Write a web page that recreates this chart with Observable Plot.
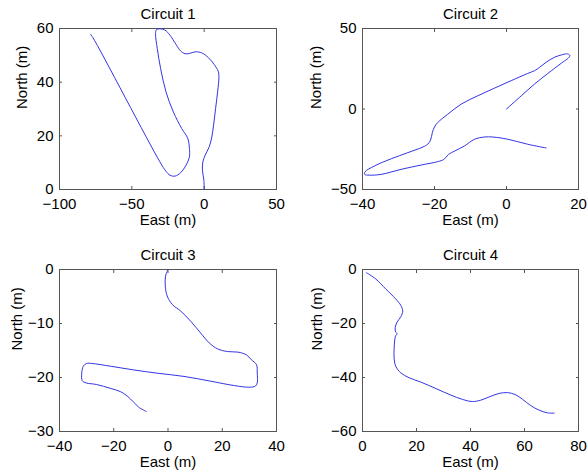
<!DOCTYPE html>
<html><head><meta charset="utf-8">
<script src="https://cdn.jsdelivr.net/npm/d3@7"></script>
<script src="https://cdn.jsdelivr.net/npm/@observablehq/plot@0.6"></script>
<style>
body{margin:0;background:#fff}
#chart{position:relative;width:588px;height:473px;background:#fff}
#chart svg{position:absolute;left:0;top:0}
</style></head><body><div id="chart"></div>
<script>
const titles = ["Circuit 1", "Circuit 2", "Circuit 3", "Circuit 4"];
const xLabel = "East (m)";
const yLabel = "North (m)";

const c1East = [0, -0.2, -1.2, -0.9, 0.7, 3.5, 5.3, 6.5, 7.9, 9.3, 10.2, 9.7, 6.9, 3.0, -1.6, -6.3, -10.2, -13.2, -16.2, -19.4, -23.6, -27.1, -30.6, -32.9, -33.6, -32.4, -30.1, -26.4, -21.3, -15.5, -11.3, -10.2, -10.2, -12.5, -16.2, -20.1, -23.6, -26.4, -30.6, -76.9, -78.5];
const c1North = [0, 3.5, 7.2, 10.3, 12.8, 15.9, 19.6, 24.0, 30.2, 36.4, 42.0, 44.1, 46.6, 49.1, 50.9, 51.3, 50.7, 50.6, 51.6, 54.0, 57.5, 59.4, 59.9, 59.6, 58.1, 52.5, 45.1, 36.4, 28.9, 22.7, 19.0, 15.3, 12.2, 9.1, 6.3, 5.0, 5.3, 6.8, 10.3, 56.6, 57.8];

const c2East = [0, 4.1, 7.8, 11.5, 15.2, 17.2, 17.6, 17.0, 15.6, 13.3, 11.0, 9.2, 7.8, 5.9, 1.3, -3.3, -8.0, -12.6, -16.3, -19.1, -20.0, -20.6, -21.1, -21.9, -23.2, -27.4, -32.0, -36.7, -39.3, -39.4, -38.1, -34.8, -29.3, -23.7, -19.1, -17.4, -16.1, -14.4, -11.7, -8.9, -6.1, -3.8, 0.4, 5.9, 11.0];
const c2North = [0, 8.2, 15.5, 22.1, 28.4, 31.7, 33.2, 34.2, 33.8, 32.1, 29.0, 25.9, 23.8, 22.1, 17.6, 13.0, 8.2, 3.0, -3.2, -8.4, -11.1, -14.7, -19.4, -21.9, -23.6, -27.1, -30.9, -35.4, -39.0, -40.6, -41.1, -40.6, -37.5, -34.8, -32.7, -31.3, -28.2, -26.1, -23.0, -18.8, -17.4, -17.4, -18.8, -21.9, -24.2];

const c3East = [0, -0.9, -1.0, -0.3, 1.6, 4.7, 8.4, 12.1, 15.2, 18.3, 22.0, 25.8, 28.9, 30.7, 32.6, 32.9, 32.9, 32.2, 30.1, 24.5, 15.9, 5.9, -4.0, -12.6, -21.3, -28.1, -30.0, -31.2, -31.8, -31.6, -30.2, -26.3, -21.3, -17.6, -15.1, -12.6, -10.8, -8.0];
const c3North = [0, -1.2, -3.1, -4.9, -6.5, -7.7, -9.6, -11.8, -13.6, -14.7, -15.2, -15.3, -15.8, -16.7, -17.6, -19.2, -21.0, -21.6, -21.8, -21.5, -20.7, -19.8, -19.2, -18.6, -17.9, -17.4, -17.4, -17.9, -19.2, -20.6, -21.0, -21.3, -22.0, -22.6, -23.4, -24.6, -25.5, -26.3];

const c4East = [1.5, 4.9, 8.6, 12.3, 14.2, 14.9, 14.2, 12.8, 12.1, 12.3, 12.8, 12.2, 11.9, 11.7, 11.7, 12.3, 14.2, 17.3, 21.6, 27.2, 32.7, 37.0, 40.7, 43.8, 46.9, 50.6, 53.7, 56.5, 59.3, 62.3, 65.4, 68.5, 71.0];
const c4North = [-1.2, -3.5, -7.2, -10.9, -13.3, -15.4, -17.5, -19.5, -21.6, -23.2, -23.7, -24.7, -26.5, -29.6, -32.7, -35.8, -38.3, -40.1, -41.7, -44.1, -46.5, -48.1, -48.9, -48.4, -47.2, -45.9, -45.6, -46.3, -48.1, -50.4, -52.1, -53.1, -53.2];

const xDomains = [[-100, 50], [-40, 20], [-40, 40], [0, 80]];
const yDomains = [[0, 60], [-50, 50], [-30, 0], [-60, 0]];
const xTicks = [[-100, -50, 0, 50], [-40, -20, 0, 20], [-40, -20, 0, 20, 40], [0, 20, 40, 60, 80]];
const yTicks = [[0, 20, 40, 60], [-50, 0, 50], [-30, -20, -10, 0], [-60, -40, -20, 0]];

const easts = [c1East, c2East, c3East, c4East];
const norths = [c1North, c2North, c3North, c4North];

// frame boxes in page pixels: left, right, top, bottom, y-label offset
const W = 588, H = 473;
const frames = [
  {l: 59, r: 276, t: 28, b: 189, ylx: -37},
  {l: 362, r: 578, t: 28, b: 189, ylx: -46},
  {l: 59, r: 276, t: 269, b: 431, ylx: -42},
  {l: 362, r: 578, t: 269, b: 431, ylx: -45}
];

const font = "'Liberation Sans', Arial, Helvetica, sans-serif";
const chart = document.getElementById("chart");

function panel(i) {
  const f = frames[i];
  const data = easts[i].map((x, j) => ({x, y: norths[i][j]}));
  const blank = () => "";
  return Plot.plot({
    width: W, height: H,
    marginLeft: f.l, marginRight: W - f.r, marginTop: f.t, marginBottom: H - f.b,
    style: {background: "transparent", fontFamily: font, fontSize: "15px", color: "#000", overflow: "visible"},
    x: {domain: xDomains[i]},
    y: {domain: yDomains[i]},
    marks: [
      Plot.axisX({ticks: xTicks[i], anchor: "bottom", tickSize: 0, tickPadding: 8.6, label: null}),
      Plot.axisY({ticks: yTicks[i], anchor: "left", tickSize: 0, tickPadding: 6, label: null}),
      Plot.axisX({ticks: xTicks[i], anchor: "bottom", tickSize: -3, tickFormat: blank, label: null, stroke: "#555"}),
      Plot.axisX({ticks: xTicks[i], anchor: "top", tickSize: -3, tickFormat: blank, label: null, stroke: "#555"}),
      Plot.axisY({ticks: yTicks[i], anchor: "left", tickSize: -3, tickFormat: blank, label: null, stroke: "#555"}),
      Plot.axisY({ticks: yTicks[i], anchor: "right", tickSize: -3, tickFormat: blank, label: null, stroke: "#555"}),
      Plot.frame({stroke: "#555"}),
      Plot.line(data, {x: "x", y: "y", stroke: "#3434e4", strokeWidth: 1, curve: "catmull-rom"}),
      Plot.text([titles[i]], {text: d => d, frameAnchor: "top", dy: -14, lineAnchor: "middle", fontSize: 15}),
      Plot.text([xLabel], {text: d => d, frameAnchor: "bottom", dy: 30.5, lineAnchor: "middle", fontSize: 15}),
      Plot.text([yLabel], {text: d => d, frameAnchor: "left", dx: f.ylx, rotate: -90, lineAnchor: "middle", fontSize: 15})
    ]
  });
}

for (let i = 0; i < 4; i++) chart.appendChild(panel(i));
</script>
</body></html>
